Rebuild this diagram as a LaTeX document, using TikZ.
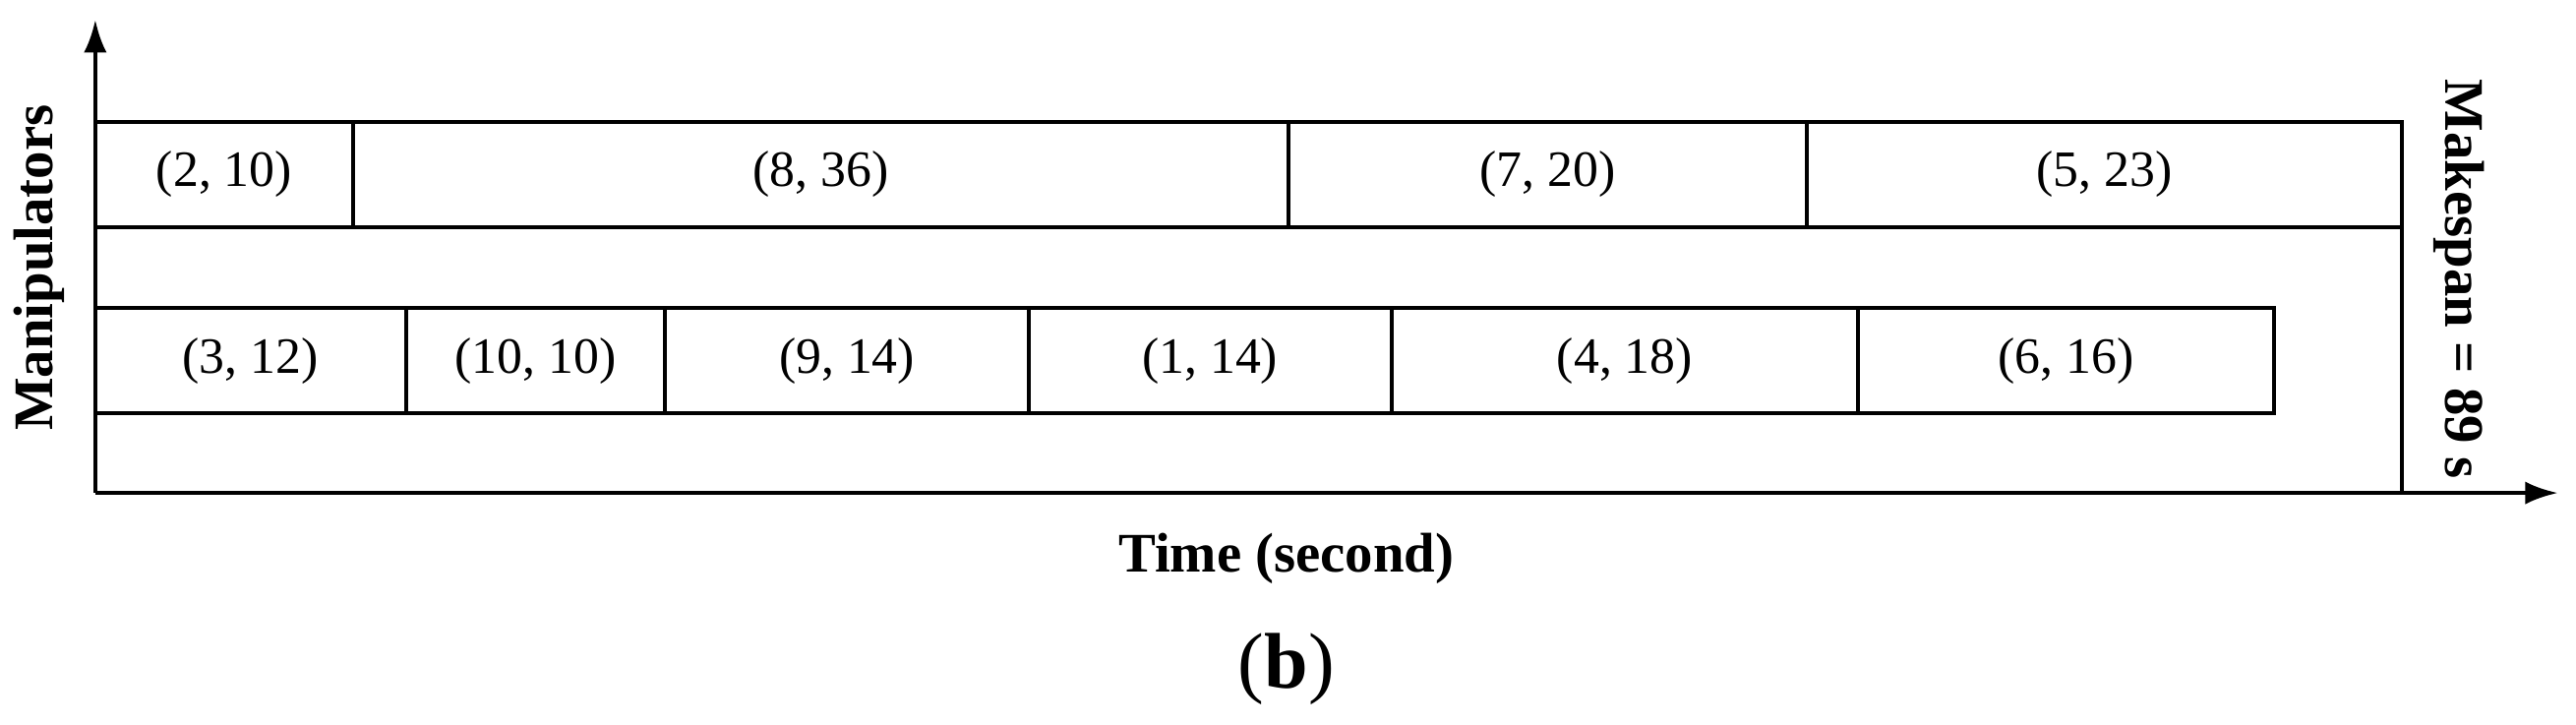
\documentclass[tikz,border=0pt]{standalone}
\usepackage{fontspec}
\usetikzlibrary{arrows.meta}
\setmainfont{Liberation Serif}
\begin{document}
\begin{tikzpicture}[x=0.5pt,y=-0.5pt,
  job/.style={draw,line width=1.2pt,minimum height=32pt,inner sep=0pt,font=\fontsize{15.5}{17}\selectfont},
  lbl/.style={font=\bfseries\fontsize{17}{19}\selectfont},
  ax/.style={line width=1.3pt,-{Latex[length=10pt,width=7pt]}}]
\useasboundingbox (0,0) rectangle (1568,441);
\coordinate (o) at (58,300);
\coordinate (ytop) at (58,12);
\coordinate (xend) at (1557,300);
\draw[ax] (o) -- (ytop);
\draw[ax] (o) -- (xend);
\draw[line width=1.2pt] (58,74) -- (1462,74) (58,138) -- (1462,138);
\draw[line width=1.2pt] (1462,74) -- (1462,300);
\foreach \a/\b/\t/\n in {58/215/{(2, 10)}/a1,215/784/{(8, 36)}/a2,784/1100/{(7, 20)}/a3,1100/1462/{(5, 23)}/a4}
  \node[job,minimum width={(\b-\a)*0.5pt}] (\n) at ({(\a+\b)/2},106) {\t};
\foreach \a/\b/\t/\n in {58/247/{(3, 12)}/b1,247/405/{(10, 10)}/b2,405/626/{(9, 14)}/b3,626/847/{(1, 14)}/b4,847/1131/{(4, 18)}/b5,1131/1384/{(6, 16)}/b6}
  \node[job,minimum width={(\b-\a)*0.5pt}] (\n) at ({(\a+\b)/2},219.5) {\t};
\node[lbl,rotate=90] (man) at (24,163) {Manipulators};
\node[lbl,rotate=-90] (mk) at (1497,170) {Makespan = 89 s};
\node[lbl] (time) at (783,340) {Time (second)};
\node[font=\fontsize{24}{26}\selectfont] (b) at (783,407) {(\textbf{b})};
\end{tikzpicture}
\end{document}
